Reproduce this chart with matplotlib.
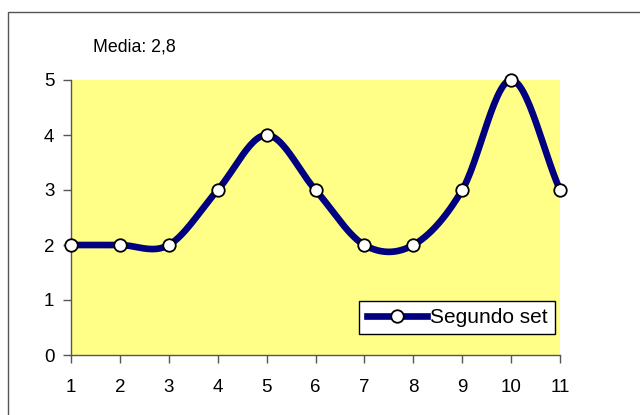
import numpy as np
import matplotlib
matplotlib.use("Agg")
import matplotlib.pyplot as plt
from matplotlib.lines import Line2D
from matplotlib.patches import Rectangle

x_vals = [1, 2, 3, 4, 5, 6, 7, 8, 9, 10, 11]
y_vals = [2, 2, 2, 3, 4, 3, 2, 2, 3, 5, 3]
series_name = "Segundo set"
mean_label = "Media: 2,8"
y_ticks = [0, 1, 2, 3, 4, 5]

def catmull_rom(xs, ys, n=30):
    xs = np.asarray(xs, float); ys = np.asarray(ys, float)
    px = np.concatenate([[2*xs[0]-xs[1]], xs, [2*xs[-1]-xs[-2]]])
    py = np.concatenate([[2*ys[0]-ys[1]], ys, [2*ys[-1]-ys[-2]]])
    ox, oy = [], []
    t = np.linspace(0, 1, n)
    for i in range(1, len(px)-2):
        for arr, out in ((px, ox), (py, oy)):
            p0, p1, p2, p3 = arr[i-1], arr[i], arr[i+1], arr[i+2]
            out.extend(0.5*((2*p1) + (-p0+p2)*t + (2*p0-5*p1+4*p2-p3)*t**2 + (-p0+3*p1-3*p2+p3)*t**3))
    return np.array(ox), np.array(oy)

plt.rcParams['font.family'] = ['Liberation Sans', 'DejaVu Sans']

fig = plt.figure(figsize=(6.4, 4.15), dpi=100)
fig.patches.append(Rectangle((8/640, -0.1), 1.0, 1 - 12/415 + 0.1, transform=fig.transFigure,
                             fill=False, edgecolor='#555555', linewidth=1.0))

ax = fig.add_axes([71/640, 1-355/415, (560-71)/640, (355-80)/415])
ax.set_facecolor('#FFFF88')
sx, sy = catmull_rom(x_vals, y_vals)
ax.plot(sx, sy, color='#000080', linewidth=4.8, solid_capstyle='round', zorder=3, clip_on=False)
ax.plot(x_vals, y_vals, linestyle='none', marker='o', markersize=9, markerfacecolor='white',
        markeredgecolor='black', markeredgewidth=1.3, zorder=4, clip_on=False)

ax.set_xlim(1, 11)
ax.set_ylim(0, 5)
ax.set_xticks(x_vals)
ax.set_yticks(y_ticks)
for s in ('top', 'right'):
    ax.spines[s].set_visible(False)
for s in ('left', 'bottom'):
    ax.spines[s].set_color('#555555')
    ax.spines[s].set_linewidth(1.0)
ax.tick_params(direction='out', length=6, width=1, colors='#555555', labelcolor='black',
               labelsize=13.5)
ax.tick_params(axis='x', pad=11)
ax.tick_params(axis='y', pad=6)

ax.text(0.045, 1.12, mean_label, transform=ax.transAxes, fontsize=12.8,
        ha='left', va='center')

handle = Line2D([], [], color='#000080', linewidth=4.8, marker='o', markersize=9,
                markerfacecolor='white', markeredgecolor='black', markeredgewidth=1.3)
leg = ax.legend([handle], [series_name], loc='lower right', bbox_to_anchor=(0.99, 0.075),
                fontsize=15, frameon=True, fancybox=False, handlelength=2.9,
                borderpad=0.35, handletextpad=0.15, borderaxespad=0.0, framealpha=1)
leg.get_frame().set_edgecolor('black')
leg.get_frame().set_facecolor('white')
leg.get_frame().set_linewidth(1.0)

fig.savefig('out.png', dpi=100)
